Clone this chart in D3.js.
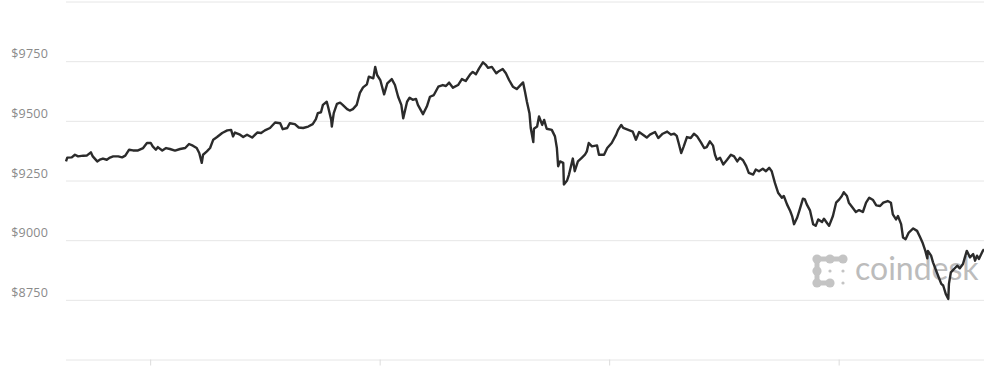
<!DOCTYPE html>
<html>
<head>
<meta charset="utf-8">
<style>
  body { margin: 0; background: #fff; }
  svg { display: block; }
  .grid line { stroke: #e6e6e6; stroke-width: 1px; }
  .grid .domain { display: none; }
  .grid text { fill: #8a8a8a; font-family: "Open Sans", Lato, sans-serif; font-size: 12.5px; letter-spacing: 0.2px; }
  .xaxis line { stroke: #dcdcdc; }
  .xaxis .domain { display: none; }
  .price { fill: none; stroke: #2b2b2b; stroke-width: 2.4px; stroke-linejoin: round; }
  .brand text { fill: #bcbcbc; font-family: Lato, "Open Sans", sans-serif; font-weight: 400; }
</style>
</head>
<body>
<svg width="984" height="376"></svg>
<script src="https://cdn.jsdelivr.net/npm/d3@7/dist/d3.min.js"></script>
<script>

// 24h of BTC price, minutes after start
var startTime = new Date(2018, 4, 9, 21, 48)
var minutes = [0,2,9,14,19,27,33,39,42,49,53,58,64,69,74,82,88,93,99,105,113,121,127,133,136,141,144,151,157,163,171,179,187,193,199,205,209,213,215,221,
  226,231,237,245,253,259,262,265,273,278,284,292,300,306,312,320,328,336,340,347,351,359,365,372,380,387,392,395,400,403,409,411,416,417,420,425,430,434,441,445,450,456,
  461,466,472,475,482,485,488,493,499,504,511,516,521,526,529,535,539,544,549,552,560,566,571,577,584,591,596,601,607,615,621,627,634,638,643,648,654,659,662,668,675,679,685,690,695,
  701,707,717,720,723,727,729,733,734,739,742,747,750,754,762,767,770,772,775,780,781,786,789,795,798,803,809,814,817,820,825,833,836,844,849,856,863,866,871,874,882,889,894,899,905,911,916,924,929,
  936,943,949,954,958,961,965,969,974,980,985,990,996,1001,1005,1010,1015,1018,1021,1026,1031,1037,1043,1048,1053,1057,1062,1067,1071,1078,1082,1087,1093,1098,1103,1107,1112,1117,1123,1126,1131,1136,1139,1142,1147,1151,1156,1159,1162,1167,
  1172,1176,1180,1186,1189,1194,1197,1203,1208,1213,1217,1220,1225,1228,1234,1239,1244,1250,1255,1260,1266,1271,1277,1282,1289,1294,1297,1302,1305,1310,1313,1317,1322,1329,1335,1340,1344,1348,1351,1352,1357,1360,1365,1368,1373,1376,1380,1384,1385,1388,1393,1398,1402,1407,1410,1413,1418,1423,1426,1429,1432,1438,1440]
var prices = [9330,9346,9347,9358,9351,9354,9355,9368,9351,9330,9337,9342,9337,9346,9351,9351,9347,9354,9379,9376,9376,9386,9407,9407,9393,9379,9390,9376,9386,9382,9375,9382,9386,9403,9396,9386,9365,9324,9358,9372,
  9386,9421,9432,9449,9460,9462,9435,9451,9442,9432,9442,9430,9451,9449,9460,9470,9493,9490,9465,9470,9490,9486,9472,9470,9476,9486,9507,9532,9536,9567,9580,9560,9504,9476,9532,9571,9576,9567,9549,9543,9549,9567,
  9617,9640,9653,9685,9678,9726,9692,9671,9611,9657,9675,9650,9601,9567,9511,9580,9597,9588,9592,9567,9528,9560,9601,9608,9643,9650,9646,9660,9639,9650,9675,9667,9695,9705,9695,9720,9745,9733,9722,9726,9699,9708,9717,9699,9671,
  9643,9633,9661,9622,9580,9532,9470,9411,9467,9476,9518,9483,9504,9467,9462,9435,9386,9310,9330,9324,9233,9250,9275,9342,9289,9330,9345,9358,9372,9407,9393,9397,9358,9358,9386,9407,9442,9462,9483,9470,9462,9455,9421,9453,9442,9430,9442,9453,9428,
  9446,9455,9442,9446,9437,9407,9365,9393,9432,9428,9446,9435,9410,9386,9390,9414,9396,9358,9337,9345,9317,9337,9358,9351,9330,9345,9335,9310,9282,9275,9296,9289,9299,9289,9303,9289,9240,9199,9178,9185,9150,9122,9101,9067,9095,9129,9174,9171,9150,9125,
  9067,9060,9087,9076,9090,9071,9060,9101,9157,9171,9185,9201,9185,9157,9136,9118,9126,9118,9157,9178,9168,9146,9143,9157,9164,9157,9108,9087,9101,9067,9011,9004,9032,9049,9039,9011,8987,8955,8924,8955,8935,8907,8872,8851,8817,8810,8775,8754,8817,8865,8879,8893,8882,8900,8928,8955,8928,8942,8914,8935,8921,8955,8962]

var gridValues = [8500, 8750, 9000, 9250, 9500, 9750, 10000]
var labelValues = [8750, 9000, 9250, 9500, 9750]

var svg = d3.select("svg"),
    mLeft = 66, mRight = 984, mTop = 1.5, mBottom = 359.5

var data = minutes.map(function(m, i) {
  return { t: d3.timeMinute.offset(startTime, m), p: prices[i] }
})

var x = d3.scaleTime()
    .domain([startTime, d3.timeHour.offset(startTime, 24)])
    .range([mLeft, mRight])

var y = d3.scaleLinear()
    .domain([8500, 10000])
    .range([mBottom, mTop])

// gridlines + price labels
var grid = svg.append("g")
    .attr("class", "grid")
    .attr("transform", "translate(" + mLeft + ",0)")
    .call(d3.axisLeft(y)
      .tickValues(gridValues)
      .tickSize(-(mRight - mLeft))
      .tickFormat(function(d) { return labelValues.indexOf(d) > -1 ? "$" + d : "" }))

grid.selectAll("text")
    .attr("x", -18)
    .attr("dy", "-0.28em")

// hour ticks under the bottom line
svg.append("g")
    .attr("class", "xaxis")
    .attr("transform", "translate(0," + mBottom + ")")
    .call(d3.axisBottom(x)
      .ticks(d3.timeHour.every(6))
      .tickSize(6)
      .tickFormat(""))

// coindesk watermark
var brand = svg.append("g").attr("class", "brand")
var dot = "#c4c4c4"
var big = [[817, 259], [830, 259], [843, 259], [817, 271], [817, 283], [830, 283]]
var links = [[0, 1], [1, 2], [0, 3], [3, 4], [4, 5]]
links.forEach(function(l) {
  brand.append("line")
    .attr("x1", big[l[0]][0]).attr("y1", big[l[0]][1])
    .attr("x2", big[l[1]][0]).attr("y2", big[l[1]][1])
    .attr("stroke", dot).attr("stroke-width", 5)
})
big.forEach(function(c) {
  brand.append("circle").attr("cx", c[0]).attr("cy", c[1]).attr("r", 4.6).attr("fill", dot)
})
;[[830, 271], [843, 271], [843, 283]].forEach(function(c) {
  brand.append("circle").attr("cx", c[0]).attr("cy", c[1]).attr("r", 1.6).attr("fill", dot)
})
brand.append("text")
    .attr("x", 855)
    .attr("y", 280)
    .attr("font-size", 32)
    .text("coindesk")

// price line
var line = d3.line()
    .x(function(d) { return x(d.t) })
    .y(function(d) { return y(d.p) })

svg.append("path")
    .datum(data)
    .attr("class", "price")
    .attr("d", line)

</script>
</body>
</html>
